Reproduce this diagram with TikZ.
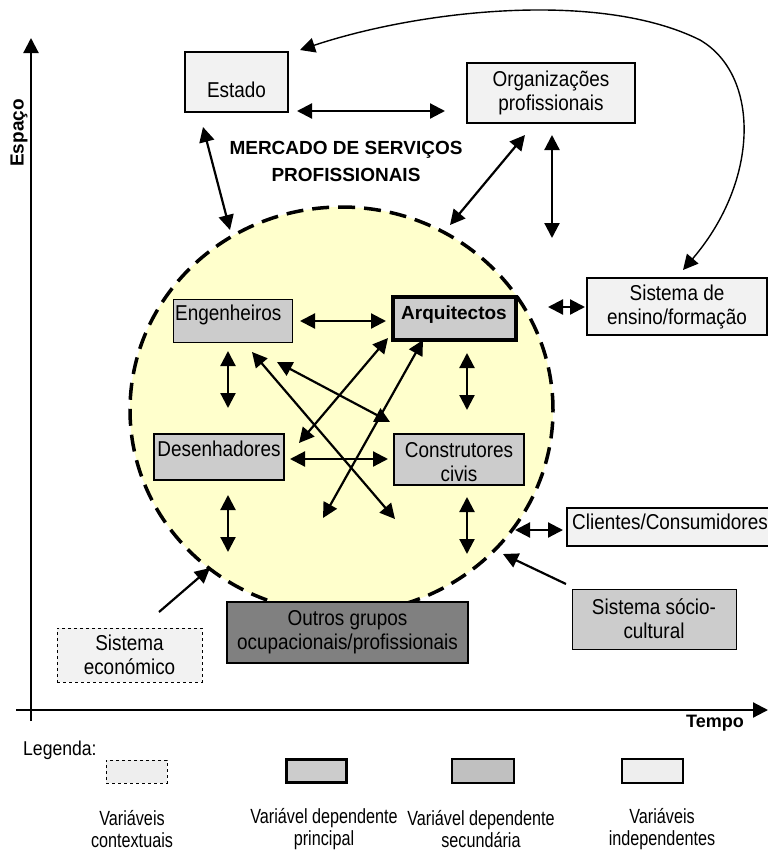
\documentclass[tikz,border=0pt]{standalone}
\usepackage{fontspec}
\setmainfont{Liberation Sans}
\newfontfamily\boxfont[FakeStretch=0.88]{Liberation Sans}
\newfontfamily\legfont[FakeStretch=0.79]{Liberation Sans}
\usetikzlibrary{arrows.meta,calc,shapes.geometric}
\definecolor{lightbox}{HTML}{F2F2F2}
\definecolor{midbox}{HTML}{CCCCCC}
\definecolor{darkbox}{HTML}{808080}
\definecolor{yel}{HTML}{FFFFCC}
\definecolor{legthree}{HTML}{C0C0C0}
\definecolor{legone}{HTML}{EEEEEE}
\tikzset{
  bx/.style={draw=black, line width=2pt, fill=lightbox, inner sep=0pt, align=center,
    font=\boxfont\fontsize{21.5}{24}\selectfont},
  gbx/.style={bx, fill=midbox},
  txt/.style={inner sep=0pt, align=center, font=\boxfont\fontsize{21.5}{24}\selectfont},
  btxt/.style={inner sep=0pt, align=center, font=\bfseries\fontsize{19}{27}\selectfont},
  legtxt/.style={inner sep=0pt, align=center, font=\legfont\fontsize{20.5}{22}\selectfont},
  tip/.tip={Triangle[length=15pt,width=15pt]},
  both/.style={line width=2.2pt, tip-tip},
  one/.style={line width=2.2pt, -tip},
}
\begin{document}
\begin{tikzpicture}[x=1pt,y=-1pt]
\useasboundingbox (0,0) rectangle (768,854);

% axes
\coordinate (yb) at (31,721);
\coordinate (yt) at (31,38);
\coordinate (xl) at (16,710);
\coordinate (xr) at (768,710);
\draw[line width=2.2pt, -{Triangle[length=15pt,width=15pt]}] (yb) -- (yt);
\draw[line width=2.2pt, -{Triangle[length=15pt,width=15pt]}] (xl) -- (xr);
\node[rotate=90, inner sep=0pt, font=\bfseries\fontsize{19}{22}\selectfont] (espaco) at (19,133) {Espaço};
\node[inner sep=0pt, font=\bfseries\fontsize{18}{22}\selectfont] (tempo) at (715,723) {Tempo};

% market ellipse
\node[ellipse, draw=black, fill=yel, line width=3.5pt, dash pattern=on 17pt off 9pt,
      minimum width=423pt, minimum height=406pt, inner sep=0pt] (mercado) at (341.5,410) {};

\node[btxt] (mtitle) at (346,161) {MERCADO DE SERVIÇOS\\PROFISSIONAIS};

% outer boxes
\node[bx, minimum width=103pt, minimum height=60pt] (estado) at (236.5,82) {};
\node[txt, anchor=base] (estadoT) at (236.5,97) {Estado};
\node[bx, minimum width=168pt, minimum height=60pt] (org) at (551,93) {Organizações\\profissionais};
\node[bx, minimum width=180pt, minimum height=57pt] (ensino) at (677,306.5) {Sistema de\\ensino/formação};
\node[bx, minimum width=223pt, minimum height=38pt] (clientes) at (678.5,527) {};
\node[txt, anchor=base west] (clientesT) at (572,529) {Clientes/Consumidores};
\node[gbx, line width=1pt, minimum width=164pt, minimum height=60pt] (socio) at (654,619) {Sistema sócio-\\cultural};
\node[bx, line width=1pt, dashed, minimum width=145pt, minimum height=54pt] (econ) at (129.5,655) {Sistema\\económico};

% inner boxes
\node[gbx, line width=1pt, minimum width=119pt, minimum height=43pt] (eng) at (232.5,320.5) {};
\node[txt, anchor=base west] (engT) at (175,320) {Engenheiros};
\node[gbx, line width=3.5pt, minimum width=123pt, minimum height=43pt] (arq) at (454.5,318.5) {};
\node[inner sep=0pt, anchor=base, font=\bfseries\fontsize{19}{22}\selectfont] (arqT) at (454,319) {Arquitectos};
\node[gbx, line width=2pt, minimum width=130pt, minimum height=46pt] (des) at (219,457) {};
\node[txt, anchor=base] (desT) at (219,456) {Desenhadores};
\node[gbx, line width=2pt, minimum width=130pt, minimum height=51pt] (con) at (459,459.5) {};
\node[txt] (conT) at (459,462) {Construtores\\civis};

% arrow end points
\coordinate (a1) at (297,111);  \coordinate (b1) at (445,111);
\coordinate (a2) at (203,127);  \coordinate (b2) at (230,230);
\coordinate (a3) at (525,135);  \coordinate (b3) at (450,225);
\coordinate (a4) at (552,135);  \coordinate (b4) at (552,238);
\coordinate (a5) at (548,307);  \coordinate (b5) at (585,307);
\coordinate (a6) at (300,321);  \coordinate (b6) at (386,321);
\coordinate (a7) at (228,351);  \coordinate (b7) at (228,408);
\coordinate (a8) at (467,353);  \coordinate (b8) at (467,410);
\coordinate (a9) at (290,459);  \coordinate (b9) at (388,459);
\coordinate (a10) at (228,495); \coordinate (b10) at (228,552);
\coordinate (a11) at (467,497); \coordinate (b11) at (467,554);
\coordinate (a12) at (252,352); \coordinate (b12) at (395,519);
\coordinate (a13) at (277,362); \coordinate (b13) at (390,422);
\coordinate (a14) at (388,338); \coordinate (b14) at (299,443);
\coordinate (a15) at (423,340); \coordinate (b15) at (323,518);
\coordinate (a16) at (515,530); \coordinate (b16) at (563,530);
\coordinate (a17) at (566,584); \coordinate (b17) at (503,554);
\coordinate (a18) at (159,612); \coordinate (b18) at (210,568);
\coordinate (c1) at (300,50);   \coordinate (c2) at (683,270);
\coordinate (cm) at (700,40);

\draw[both] (a1) -- (b1);
\draw[both] (a2) -- (b2);
\draw[both] (a3) -- (b3);
\draw[both] (a4) -- (b4);
\draw[both] (a5) -- (b5);
\draw[both] (a6) -- (b6);
\draw[both] (a7) -- (b7);
\draw[both] (a8) -- (b8);
\draw[both] (a9) -- (b9);
\draw[both] (a10) -- (b10);
\draw[both] (a11) -- (b11);
\draw[both] (a12) -- (b12);
\draw[both] (a13) -- (b13);
\draw[both] (a14) -- (b14);
\draw[both] (a15) -- (b15);
\draw[both] (a16) -- (b16);
\draw[one] (a17) -- (b17);
\draw[one] (a18) -- (b18);
\draw[line width=1.4pt, tip-tip] (c1) .. controls (420,10) and (600,-10) .. (cm)
   .. controls (760,75) and (760,180) .. (c2);

% other groups (on top of ellipse)
\node[bx, fill=darkbox, line width=2pt, minimum width=241pt, minimum height=61pt] (outros) at (347.5,632.5) {Outros grupos\\ocupacionais/profissionais};

% legend
\node[inner sep=0pt, anchor=base west, font=\boxfont\fontsize{20}{22}\selectfont] (legenda) at (23,755) {Legenda:};
\node[draw=black, line width=1pt, dashed, fill=legone, minimum width=61pt, minimum height=23pt, inner sep=0pt] (lg1) at (136.5,771.5) {};
\node[draw=black, line width=3.5pt, fill=midbox, minimum width=60pt, minimum height=23pt, inner sep=0pt] (lg2) at (316.5,771) {};
\node[draw=black, line width=1.3pt, fill=legthree, minimum width=62pt, minimum height=24pt, inner sep=0pt] (lg3) at (483,771) {};
\node[draw=black, line width=1.3pt, fill=legone, minimum width=61pt, minimum height=24pt, inner sep=0pt] (lg4) at (652.5,771) {};
\node[legtxt] (lt1) at (132,829.5) {Variáveis\\contextuais};
\node[legtxt] (lt2) at (324,829.5) {Variável dependente\\principal};
\node[legtxt, fill=white, inner xsep=8pt] (lt3) at (481,829.5) {Variável dependente\\secundária};
\node[legtxt] (lt4) at (662,829.5) {Variáveis\\independentes};
\end{tikzpicture}
\end{document}
